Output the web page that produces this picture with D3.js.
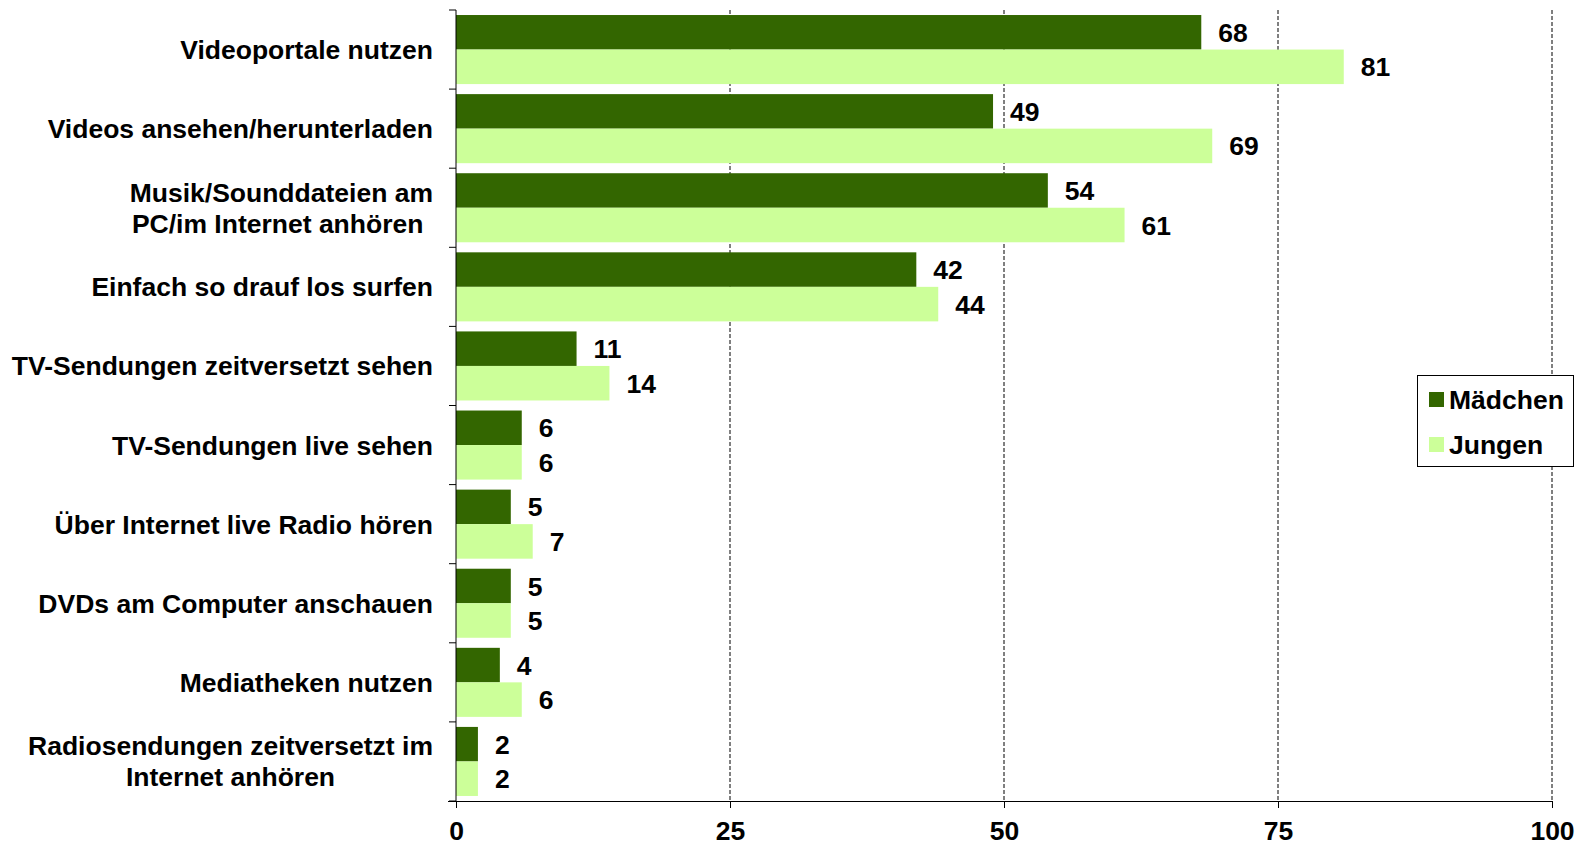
<!DOCTYPE html>
<html>
<head>
<meta charset="utf-8">
<script src="https://cdn.jsdelivr.net/npm/d3@7"></script>
<style>
  body { margin: 0; background: #fff; }
  svg { display: block; font-family: "Liberation Sans", Arial, sans-serif; font-weight: bold; }
</style>
</head>
<body>
<svg id="chart" width="1575" height="846"></svg>
<script>
const categories = [
  ["Videoportale nutzen"],
  ["Videos ansehen/herunterladen"],
  ["Musik/Sounddateien am", "PC/im Internet anhören "],
  ["Einfach so drauf los surfen"],
  ["TV-Sendungen zeitversetzt sehen"],
  ["TV-Sendungen live sehen"],
  ["Über Internet live Radio hören"],
  ["DVDs am Computer anschauen"],
  ["Mediatheken nutzen"],
  ["Radiosendungen zeitversetzt im", "Internet anhören"]
];
const maedchen = [68, 49, 54, 42, 11, 6, 5, 5, 4, 2];
const jungen = [81, 69, 61, 44, 14, 6, 7, 5, 6, 2];
const seriesNames = ["Mädchen", "Jungen"];
const colors = ["#336600", "#ccff99"];
const xTicks = [0, 25, 50, 75, 100];

const svg = d3.select("#chart");
const plotLeft = 456, plotRight = 1552, plotTop = 10, plotBottom = 801;
const fontSize = 26.5;

const x = d3.scaleLinear().domain([0, 100]).range([plotLeft, plotRight]);
const y = d3.scaleBand().domain(d3.range(categories.length)).range([plotTop, plotBottom]).paddingInner(0.127).paddingOuter(0.0635);
const ySub = d3.scaleBand().domain([0, 1]).range([0, y.bandwidth()]);

// gridlines
svg.append("g").selectAll("line")
  .data(xTicks.slice(1))
  .join("line")
  .attr("x1", d => x(d)).attr("x2", d => x(d))
  .attr("y1", plotTop).attr("y2", plotBottom)
  .attr("stroke", "#000").attr("stroke-width", 1)
  .attr("stroke-dasharray", "4,2");

// bars
const series = [maedchen, jungen];
const bars = svg.append("g");
series.forEach((vals, si) => {
  bars.selectAll(null)
    .data(vals)
    .join("rect")
    .attr("x", x(0))
    .attr("y", (d, i) => y(i) + ySub(si))
    .attr("width", d => x(d) - x(0))
    .attr("height", ySub.bandwidth())
    .attr("fill", colors[si]);

  bars.selectAll(null)
    .data(vals)
    .join("text")
    .attr("x", d => x(d) + 17)
    .attr("y", (d, i) => y(i) + ySub(si) + ySub.bandwidth() / 2)
    .attr("dy", "0.36em")
    .attr("font-size", fontSize)
    .text(d => d);
});

// axes
const yAxis = svg.append("g");
yAxis.append("line")
  .attr("x1", plotLeft).attr("x2", plotLeft).attr("y1", plotTop).attr("y2", plotBottom)
  .attr("stroke", "#000");
yAxis.selectAll("line.tick")
  .data(d3.range(categories.length + 1))
  .join("line")
  .attr("class", "tick")
  .attr("x1", plotLeft - 7).attr("x2", plotLeft)
  .attr("y1", i => plotTop + i * (plotBottom - plotTop) / categories.length)
  .attr("y2", i => plotTop + i * (plotBottom - plotTop) / categories.length)
  .attr("stroke", "#000");

const xAxis = svg.append("g")
  .attr("transform", `translate(0,${plotBottom})`)
  .call(d3.axisBottom(x).tickValues(xTicks).tickSize(7).tickPadding(13));
xAxis.attr("font-family", null).attr("font-size", null);
xAxis.select(".domain").attr("d", `M${plotLeft - 8},0.5H${plotRight + 1}`);
xAxis.selectAll("line").attr("stroke", "#000");
xAxis.selectAll("text").attr("font-size", fontSize).attr("fill", "#000");

// category labels
const labels = svg.append("g");
categories.forEach((lines, i) => {
  const cy = y(i) + y.bandwidth() / 2;
  const lh = 31;
  const g = labels.append("g");
  const texts = g.selectAll("text")
    .data(lines)
    .join("text")
    .attr("font-size", fontSize)
    .attr("y", (d, j) => cy + (j - (lines.length - 1) / 2) * lh)
    .attr("dy", "0.36em")
    .attr("text-anchor", "middle")
    .style("white-space", "pre")
    .text(d => d);
  let maxW = 0;
  texts.each(function () { maxW = Math.max(maxW, this.getComputedTextLength()); });
  texts.attr("x", 433 - maxW / 2);
});

// legend
const legend = svg.append("g");
legend.append("rect")
  .attr("x", 1417.5).attr("y", 375.5).attr("width", 156).attr("height", 91)
  .attr("fill", "#fff").attr("stroke", "#000");
seriesNames.forEach((name, i) => {
  legend.append("rect")
    .attr("x", 1429).attr("y", 392 + i * 45).attr("width", 15).attr("height", 15)
    .attr("fill", colors[i]);
  legend.append("text")
    .attr("x", 1449).attr("y", 399.5 + i * 45).attr("dy", "0.36em")
    .attr("font-size", fontSize)
    .text(name);
});
</script>
</body>
</html>
